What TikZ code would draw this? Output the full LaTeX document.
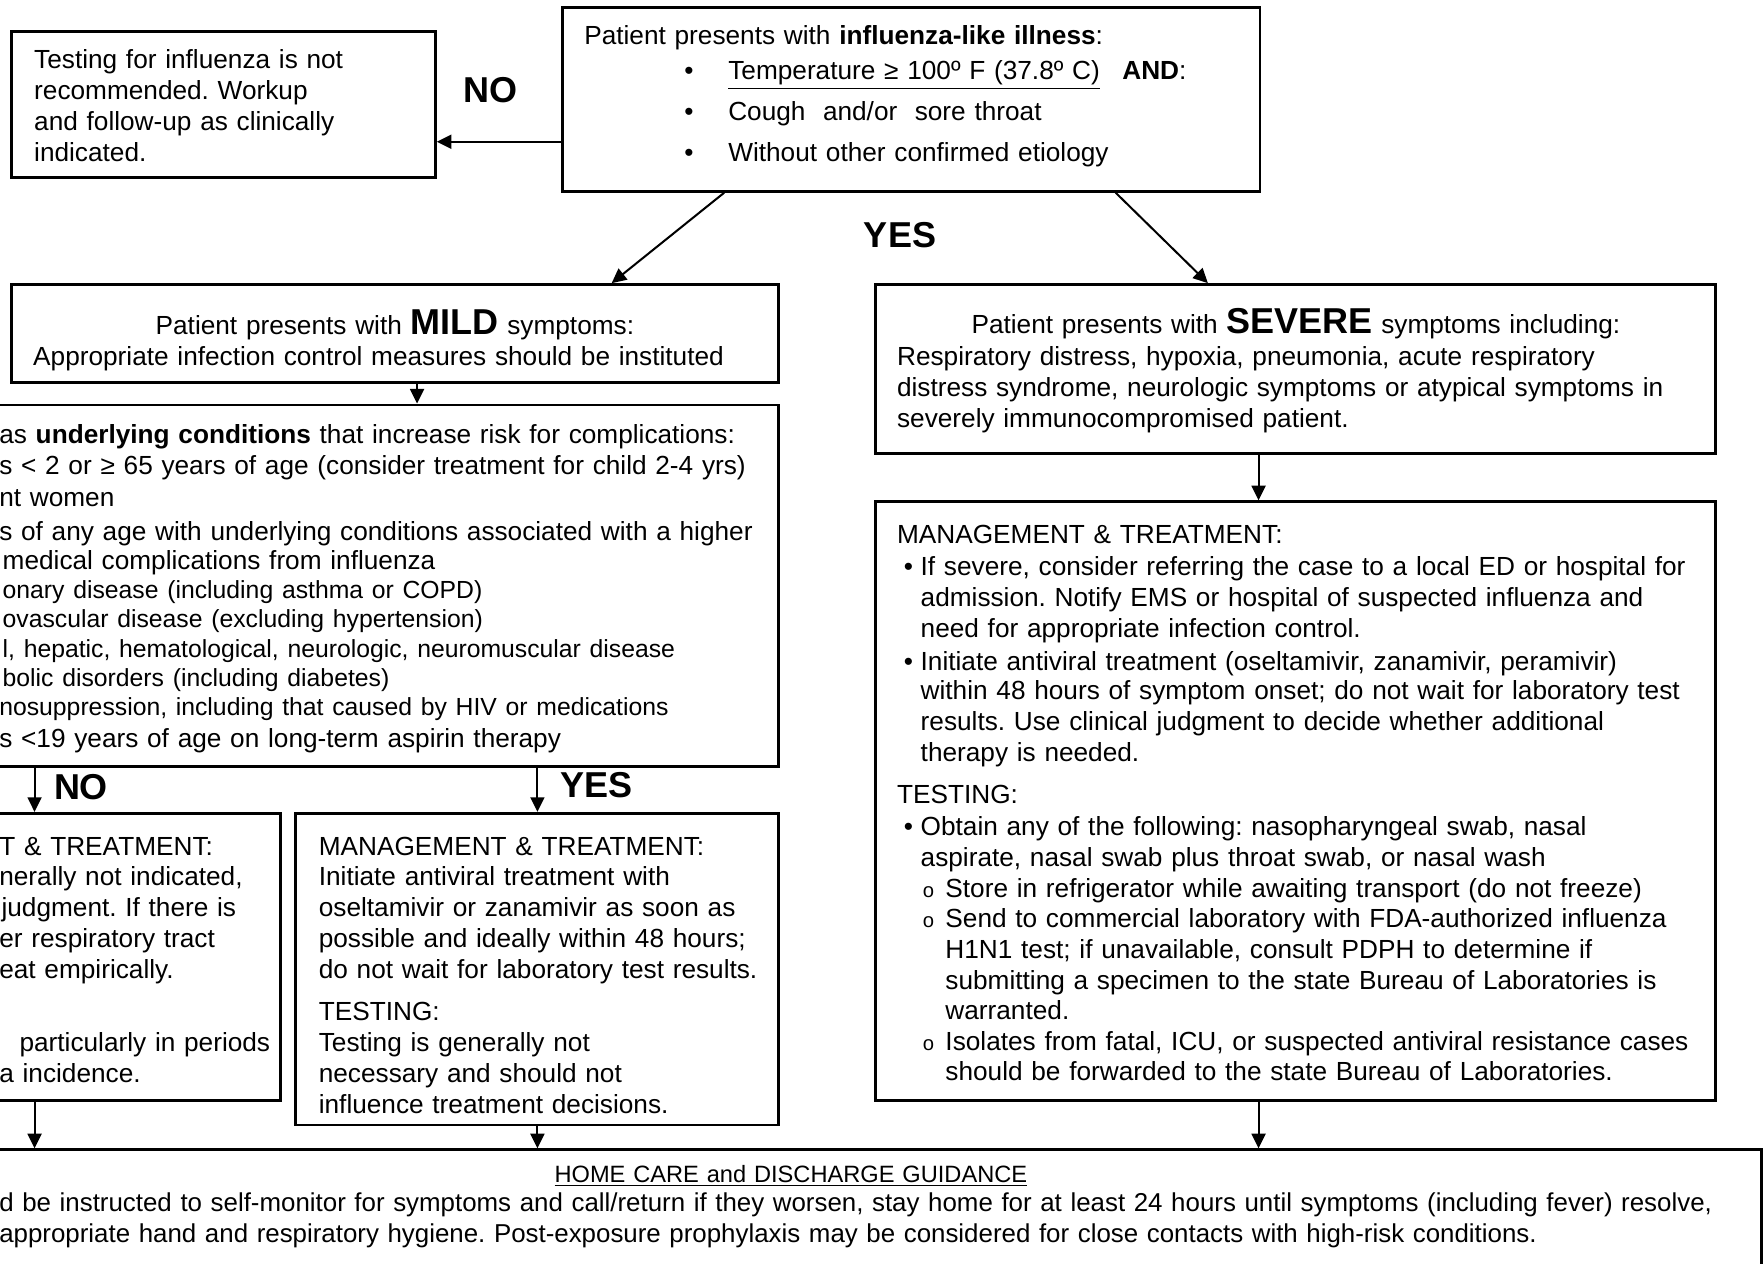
\documentclass[tikz,border=0pt]{standalone}
\usepackage{fontspec}
\setmainfont{Liberation Sans}
\usetikzlibrary{arrows.meta,fit,calc}
\frenchspacing
\newcommand{\elevenpt}{\fontsize{11}{13.75}\selectfont}
\newcommand{\bigword}[1]{{\fontsize{16}{13.75}\selectfont\bfseries #1}}

\begin{document}
\begin{tikzpicture}[x=0.5pt,y=-0.5pt]
\tikzstyle{box}=[draw, line width=1.3pt, inner sep=0pt]
\tikzstyle{txt}=[anchor=base west, inner sep=0pt, align=left, text width=780pt, font=\fontsize{11.65}{13.75}\selectfont]
\tikzstyle{answer}=[inner sep=0pt, font=\fontsize{16}{19}\selectfont\bfseries]
\tikzstyle{arrow}=[line width=0.9pt, -{Triangle[length=6.5pt,width=6.2pt]}]

\useasboundingbox (0,0) rectangle (1568,1123);
\clip (0,0) rectangle (1568,1123);

\coordinate (test_a) at (10,28);
\coordinate (test_b) at (387,158);
\coordinate (ili_a) at (500,7);
\coordinate (ili_b) at (1120,170);
\coordinate (mild_a) at (10,253);
\coordinate (mild_b) at (692,340);
\coordinate (risk_a) at (-20,360);
\coordinate (risk_b) at (692,681);
\coordinate (nores_a) at (-20,723);
\coordinate (nores_b) at (249,978);
\coordinate (yesres_a) at (263,723);
\coordinate (yesres_b) at (692,1000);
\coordinate (severe_a) at (778,253);
\coordinate (severe_b) at (1525,403);
\coordinate (sevmgmt_a) at (778,446);
\coordinate (sevmgmt_b) at (1525,978);
\coordinate (home_a) at (-20,1022);
\coordinate (home_b) at (1566,1140);

\node[box, fit=(test_a)(test_b)] (test) {};
\node[box, fit=(ili_a)(ili_b)] (ili) {};
\node[box, fit=(mild_a)(mild_b)] (mild) {};
\node[box, fit=(risk_a)(risk_b)] (risk) {};
\node[box, fit=(nores_a)(nores_b)] (nores) {};
\node[box, fit=(yesres_a)(yesres_b)] (yesres) {};
\node[box, fit=(severe_a)(severe_b)] (severe) {};
\node[box, fit=(sevmgmt_a)(sevmgmt_b)] (sevmgmt) {};
\node[box, fit=(home_a)(home_b)] (home) {};

\node[txt] (test_txt) at (30,61) {Testing for influenza is not\\
recommended. Workup\\
and follow-up as clinically\\
indicated.};

\node[txt] (ili_txt) at (519,40) {Patient presents with \textbf{influenza-like illness}:\\[1.75pt]
\hspace*{44.5pt}\makebox[19.5pt][l]{•}\underline{Temperature ≥ 100º F (37.8º C)}\hspace{10pt}\textbf{AND}:\\[4.25pt]
\hspace*{44.5pt}\makebox[19.5pt][l]{•}Cough\ \ and/or\ \ sore throat\\[4.5pt]
\hspace*{44.5pt}\makebox[19.5pt][l]{•}Without other confirmed etiology};

\node[txt, anchor=base, align=center, text width=330pt] (mild_txt) at (351,297) {Patient presents with \bigword{MILD} symptoms:\\[0.25pt]
\hspace*{-14.5pt}Appropriate infection control measures should be instituted};

\node[txt] (risk_txt) at (-1,394) {as \textbf{underlying conditions} that increase risk for complications:\\[0.25pt]
s < 2 or ≥ 65 years of age (consider treatment for child 2-4 yrs)\\[0.25pt]
nt women\\[1.25pt]
s of any age with underlying conditions associated with a higher\\[-0.5pt]
\hspace*{1.5pt}medical complications from influenza\\[-0.9pt]
{\elevenpt\hspace*{1.5pt}onary disease (including asthma or COPD)}\\[-0.9pt]
{\elevenpt\hspace*{1.5pt}ovascular disease (excluding hypertension)}\\[-0.4pt]
{\elevenpt\hspace*{1.5pt}l, hepatic, hematological, neurologic, neuromuscular disease}\\[-0.9pt]
{\elevenpt\hspace*{1.5pt}bolic disorders (including diabetes)}\\[-0.9pt]
{\elevenpt nosuppression, including that caused by HIV or medications}\\[0.4pt]
s <19 years of age on long-term aspirin therapy};

\node[txt] (nores_txt) at (-1,760) {T \& TREATMENT:\\
nerally not indicated,\\
\hspace*{1pt}judgment. If there is\\
er respiratory tract\\
eat empirically.\\[18.75pt]
\hspace*{9pt}particularly in periods\\
a incidence.};

\node[txt] (yesres_txt) at (283,760) {MANAGEMENT \& TREATMENT:\\
Initiate antiviral treatment with\\
oseltamivir or zanamivir as soon as\\
possible and ideally within 48 hours;\\
do not wait for laboratory test results.\\[4.75pt]
TESTING:\\
Testing is generally not\\
necessary and should not\\
influence treatment decisions.};

\node[txt] (severe_txt) at (797,296) {\makebox[354.5pt][c]{Patient presents with \bigword{SEVERE} symptoms including:}\\[0.75pt]
Respiratory distress, hypoxia, pneumonia, acute respiratory\\
distress syndrome, neurologic symptoms or atypical symptoms in\\
severely immunocompromised patient.};

\node[txt, font=\fontsize{11.65}{13.62}\selectfont] (sevmgmt_txt) at (797,483) {MANAGEMENT \& TREATMENT:\\[0.75pt]
\hspace*{3pt}\makebox[7.5pt][l]{•}If severe, consider referring the case to a local ED or hospital for\\
\hspace*{10.5pt}admission. Notify EMS or hospital of suspected influenza and\\
\hspace*{10.5pt}need for appropriate infection control.\\[1.25pt]
\hspace*{3pt}\makebox[7.5pt][l]{•}Initiate antiviral treatment (oseltamivir, zanamivir, peramivir)\\[-0.6pt]
\hspace*{10.5pt}within 48 hours of symptom onset; do not wait for laboratory test\\
\hspace*{10.5pt}results. Use clinical judgment to decide whether additional\\
\hspace*{10.5pt}therapy is needed.\\[5.25pt]
TESTING:\\[0.75pt]
\hspace*{3pt}\makebox[7.5pt][l]{•}Obtain any of the following: nasopharyngeal swab, nasal\\
\hspace*{10.5pt}aspirate, nasal swab plus throat swab, or nasal wash\\
\hspace*{11.5pt}\makebox[10pt][l]{\small o}Store in refrigerator while awaiting transport (do not freeze)\\
\hspace*{11.5pt}\makebox[10pt][l]{\small o}Send to commercial laboratory with FDA-authorized influenza\\
\hspace*{21.5pt}H1N1 test; if unavailable, consult PDPH to determine if\\
\hspace*{21.5pt}submitting a specimen to the state Bureau of Laboratories is\\
\hspace*{21.5pt}warranted.\\
\hspace*{11.5pt}\makebox[10pt][l]{\small o}Isolates from fatal, ICU, or suspected antiviral resistance cases\\
\hspace*{21.5pt}should be forwarded to the state Bureau of Laboratories.};

\node[txt, anchor=base, align=center, text width=300pt, font=\fontsize{10.5}{13.5}\selectfont] (home_head) at (703,1051) {\underline{HOME CARE and DISCHARGE GUIDANCE}};
\node[txt, font=\fontsize{11.5}{13.6}\selectfont] (home_txt) at (-1,1077) {d be instructed to self-monitor for symptoms and call/return if they worsen, stay home for at least 24 hours until symptoms (including fever) resolve,\\
appropriate hand and respiratory hygiene. Post-exposure prophylaxis may be considered for close contacts with high-risk conditions.};

\node[answer] (no_top) at (436,80) {NO};
\node[answer] (yes_top) at (800,209) {YES};
\node[answer] (no_risk) at (72,700) {NO};
\node[answer] (yes_risk) at (530,698) {YES};

\coordinate (no_y) at (0,126);

\draw[arrow] (ili.west |- no_y) -- (test.east |- no_y);
\draw[arrow] ($(ili.south west)+(145,0)$) -- ($(mild.north west)+(535,0)$);
\draw[arrow] ($(ili.south west)+(493,0)$) -- ($(severe.north west)+(297,0)$);
\draw[arrow] ($(mild.south west)+(362,0)$) -- ($(risk.north west)+(392,0)$);
\draw[arrow] ($(risk.south west)+(52,0)$) -- ($(nores.north west)+(52,0)$);
\draw[arrow] ($(risk.south west)+(499,0)$) -- ($(yesres.north west)+(216,0)$);
\draw[arrow] ($(severe.south west)+(342,0)$) -- ($(sevmgmt.north west)+(342,0)$);
\draw[arrow] ($(nores.south west)+(52,0)$) -- ($(home.north west)+(52,0)$);
\draw[arrow] ($(yesres.south west)+(216,0)$) -- ($(home.north west)+(499,0)$);
\draw[arrow] ($(sevmgmt.south west)+(342,0)$) -- ($(home.north west)+(1140,0)$);

\end{tikzpicture}
\end{document}
